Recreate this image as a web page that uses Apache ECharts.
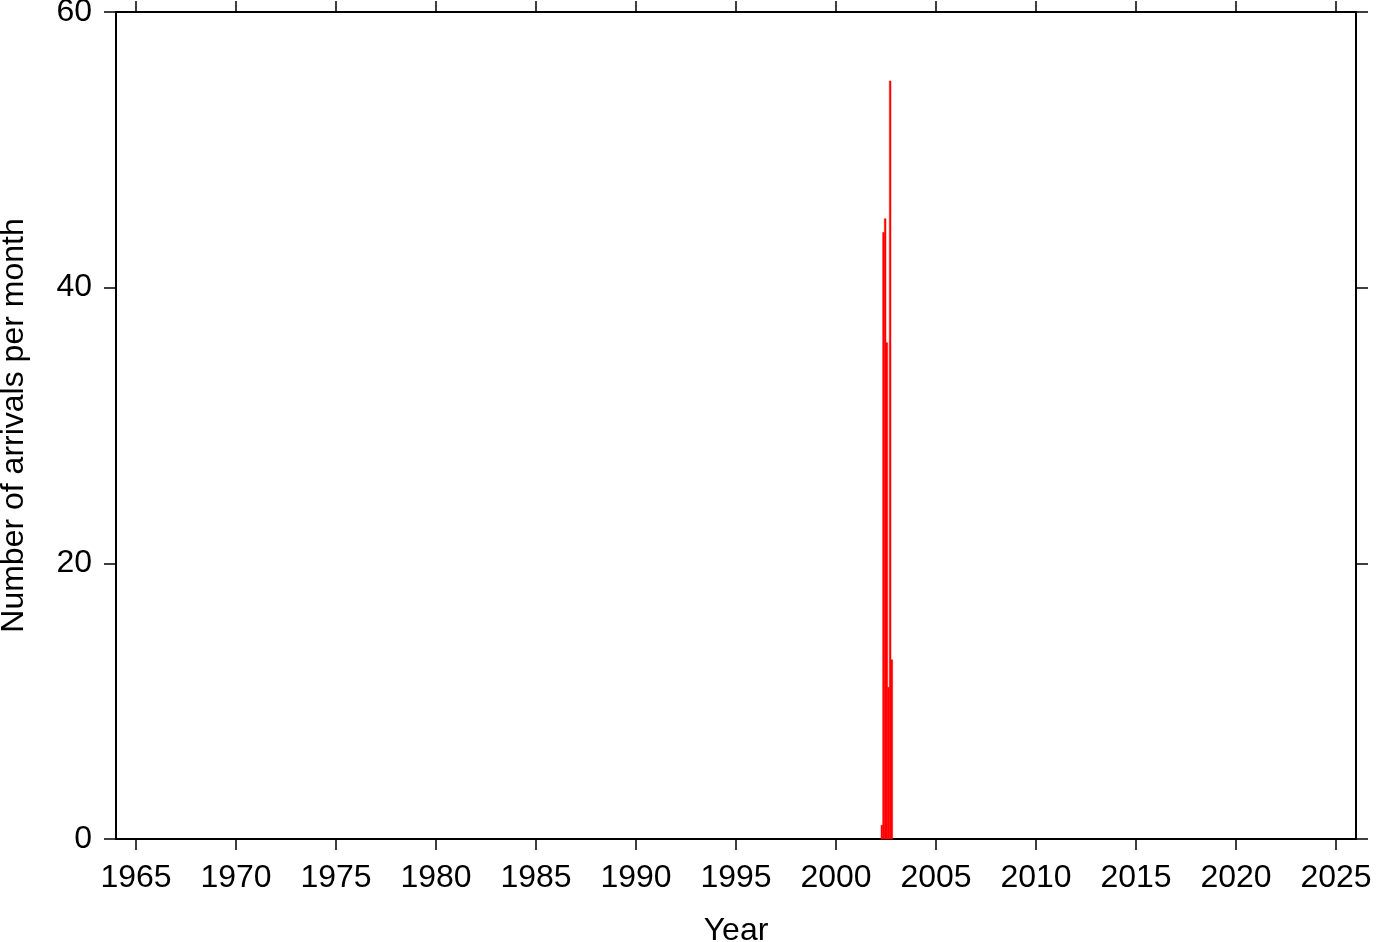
<!DOCTYPE html>
<html>
<head>
<meta charset="utf-8">
<script src="https://cdn.jsdelivr.net/npm/echarts@6/dist/echarts.min.js"></script>
<style>
html,body{margin:0;padding:0;background:#fff;}
#chart{width:1382px;height:942px;}
</style>
</head>
<body>
<div id="chart"></div>
<script>
// Monthly arrival counts (only non-zero months shown)
var months = ["2002-04","2002-05","2002-06","2002-07","2002-08","2002-09","2002-10"];
var counts = [1, 44, 45, 36, 11, 55, 13];
var yearTicks = [1965,1970,1975,1980,1985,1990,1995,2000,2005,2010,2015,2020,2025];
var yTicks = [0, 20, 40, 60];

var barData = months.map(function(m, i){
  var p = m.split("-");
  var x0 = parseInt(p[0], 10) + (parseInt(p[1], 10) - 1) / 12;
  return [x0, x0 + 1/12, counts[i]];
});

var font = "'Liberation Sans', Helvetica, Arial, sans-serif";
var chart = echarts.init(document.getElementById('chart'), null, {renderer:'canvas'});
var lineStyle = {color:'#000', width:2};
var tickStyle = {color:'#000', width:1.5};

chart.setOption({
  animation:false,
  backgroundColor:'#fff',
  grid:{left:116, right:26, top:12, bottom:103, containLabel:false, outerBoundsMode:'none'},
  xAxis:[{
    type:'value', min:1964, max:2026, position:'bottom',
    name:'Year', nameLocation:'middle', nameGap:76,
    nameTextStyle:{color:'#000', fontSize:32, fontFamily:font},
    axisLine:{show:true, onZero:false, lineStyle:lineStyle},
    axisTick:{show:true, inside:false, length:11, lineStyle:tickStyle, customValues:yearTicks},
    axisLabel:{show:true, color:'#000', fontSize:32, fontFamily:font, margin:23, customValues:yearTicks,
      formatter:function(v){return String(v);}},
    splitLine:{show:false}
  },{
    type:'value', min:1964, max:2026, position:'top',
    axisLine:{show:true, onZero:false, lineStyle:lineStyle},
    axisTick:{show:true, inside:false, length:11, lineStyle:tickStyle, customValues:yearTicks},
    axisLabel:{show:false},
    splitLine:{show:false}
  }],
  yAxis:[{
    type:'value', min:0, max:60, interval:20, position:'left',
    name:'Number of arrivals per month', nameLocation:'middle', nameGap:86, nameRotate:90,
    nameTextStyle:{color:'#000', fontSize:32, fontFamily:font},
    axisLine:{show:true, onZero:false, lineStyle:lineStyle},
    axisTick:{show:true, inside:false, length:12, lineStyle:tickStyle},
    axisLabel:{show:true, color:'#000', fontSize:32, fontFamily:font, margin:24},
    splitLine:{show:false}
  },{
    type:'value', min:0, max:60, interval:20, position:'right',
    axisLine:{show:true, onZero:false, lineStyle:lineStyle},
    axisTick:{show:true, inside:false, length:12, lineStyle:tickStyle},
    axisLabel:{show:false},
    splitLine:{show:false}
  }],
  series:[{
    type:'custom',
    xAxisIndex:0, yAxisIndex:0,
    data:barData,
    encode:{x:[0,1], y:2},
    renderItem:function(params, api){
      var p0 = api.coord([api.value(0), 0]);
      var p1 = api.coord([api.value(1), api.value(2)]);
      return {
        type:'rect',
        shape:{x:p0[0], y:p1[1], width:p1[0]-p0[0], height:p0[1]-p1[1]},
        style:{fill:'#ff0000', stroke:'#ff0000', lineWidth:0.5}
      };
    },
    z:1
  }]
});
</script>
</body>
</html>
